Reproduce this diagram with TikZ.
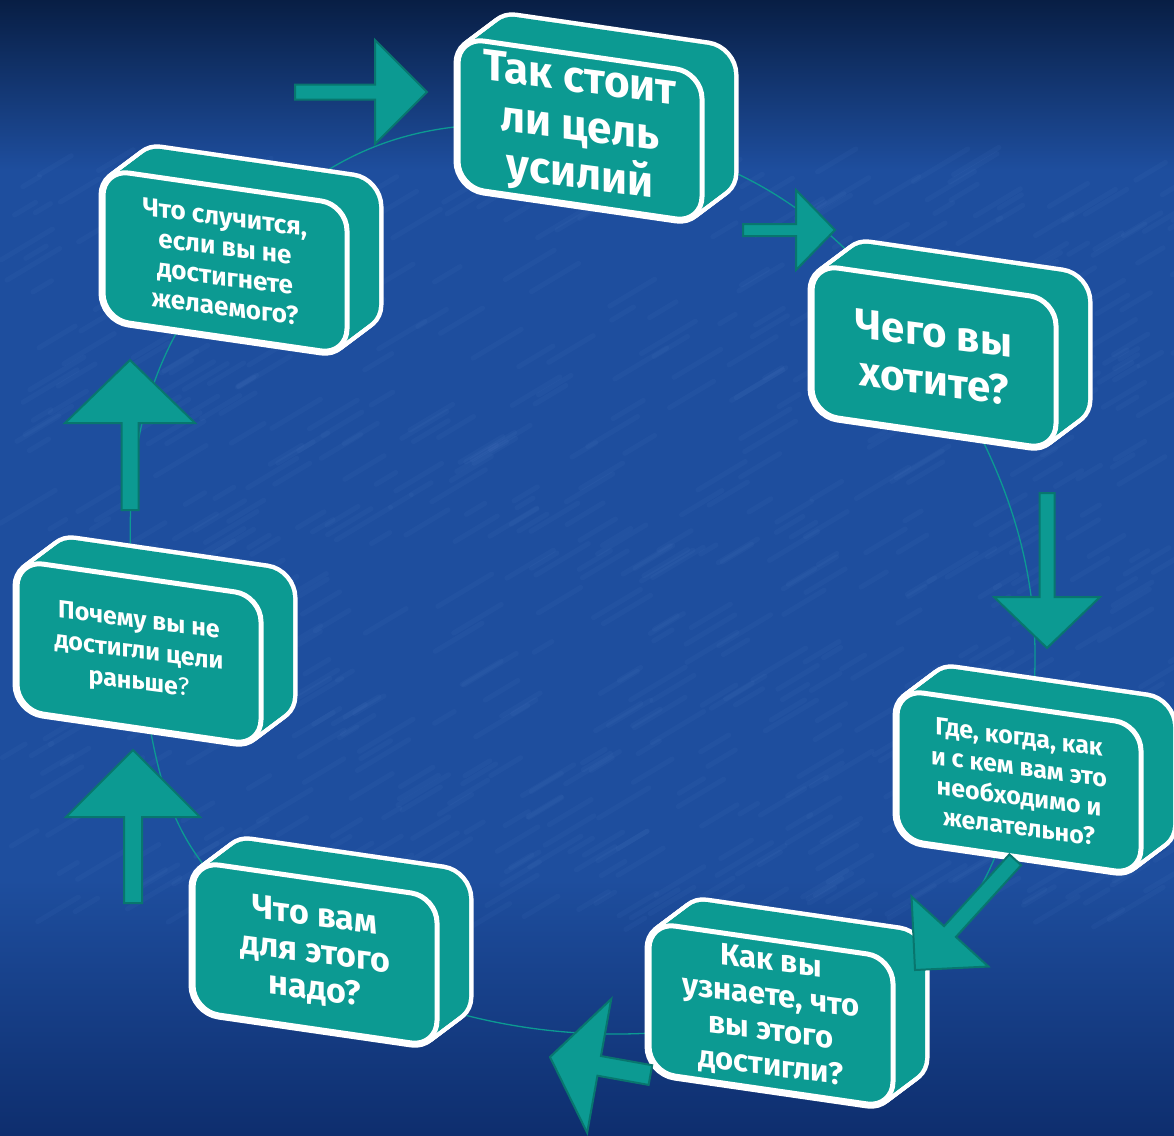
\documentclass[tikz,border=0pt]{standalone}
\usepackage{fontspec}
\setmainfont{Fira Sans}
\usetikzlibrary{calc}

\definecolor{boxteal}{RGB}{12,154,146}
\definecolor{arrowedge}{RGB}{8,118,110}
\definecolor{bgtop}{RGB}{8,30,68}
\definecolor{bgmid}{RGB}{30,78,158}
\definecolor{bgbot}{RGB}{14,46,110}
\definecolor{bglight}{RGB}{110,150,220}

\tikzset{
  ringline/.style={boxteal, line width=1.3pt},
  blockarrow/.style={fill=boxteal, draw=arrowedge, line width=2pt, line join=miter},
  boxface/.style={yslant=-0.145, rounded corners=26pt},
  boxtext/.style={text=white, align=center, inner sep=0pt, yslant=-0.13},
  streak/.style={bglight, opacity=0.06, line width=5pt, line cap=round}
}

% 3D box: name, centre, font size, skip, text
\newcommand{\goalbox}[5]{%
  \begin{scope}[shift={(#2)}]
    \foreach \k in {0,...,16}
      \draw[white, line width=9pt, shift={(2*\k,-1.5*\k)}, boxface]
        (-122,-75) -- (122,-75) -- (122,75) -- (-122,75) -- cycle;
    \foreach \k in {0,...,16}
      \fill[boxteal, shift={(2*\k,-1.5*\k)}, boxface]
        (-122,-75) -- (122,-75) -- (122,75) -- (-122,75) -- cycle;
    \filldraw[fill=boxteal, draw=white, line width=5pt, boxface]
      (-122,-75) -- (122,-75) -- (122,75) -- (-122,75) -- cycle;
    \node[boxtext, font={\fontsize{#3}{#4}\selectfont\bfseries}] (#1) at (0,0) {#5};
  \end{scope}}

% block arrow: tip, angle, length, head length, head half width, shaft half width
\newcommand{\blockarrow}[6]{%
  \draw[blockarrow, shift={(#1)}, rotate=#2]
    (0,0) -- (-#4,#5) -- (-#4,#6) -- (-#3,#6) -- (-#3,-#6) -- (-#4,-#6) -- (-#4,-#5) -- cycle;}

\begin{document}
\begin{tikzpicture}[x=1pt,y=-1pt]
  \useasboundingbox (0,0) rectangle (1174,1135);
  % background
  \fill[bgmid] (0,0) rectangle (1174,1135);
  \shade[top color=bgtop, bottom color=bgmid] (0,0) rectangle (1174,170);
  \shade[top color=bgmid, bottom color=bgbot] (0,880) rectangle (1174,1135);
  \pgfmathsetseed{17}
  \foreach \i in {1,...,700} {
    \pgfmathsetmacro\sx{rnd*1174}
    \pgfmathsetmacro\sy{170+rnd*760}
    \pgfmathsetmacro\sl{15+rnd*40}
    \draw[streak] (\sx,\sy) -- ++(\sl,-0.6*\sl);
  }

  % box centres
  \coordinate (cA) at (580,130);
  \coordinate (cB) at (225,262);
  \coordinate (cC) at (934,357);
  \coordinate (cD) at (1019,782);
  \coordinate (cE) at (771,1015);
  \coordinate (cF) at (139,653);
  \coordinate (cG) at (315,954);

  % ring behind the boxes
  \draw[ringline] plot[smooth cycle, tension=0.8] coordinates {(cA) (cC) (cD) (cE) (cG) (cF) (cB)};

  % boxes
  \goalbox{worth}{cA}{44}{48}{Так стоит\\ли цель\\усилий}
  \goalbox{ifnot}{cB}{26}{30}{Что случится,\\если вы не\\достигнете\\желаемого?}
  \goalbox{want}{cC}{42}{48}{Чего вы\\хотите?}
  \goalbox{where}{cD}{25}{30}{Где, когда, как\\и с кем вам это\\необходимо и\\желательно?}
  \goalbox{know}{cE}{31}{35}{Как вы\\узнаете, что\\вы этого\\достигли?}
  \goalbox{why}{cF}{25}{31}{Почему вы не\\достигли цели\\раньше{\mdseries ?}}
  \goalbox{need}{cG}{34}{37}{Что вам\\для этого\\надо?}

  % arrows
  \blockarrow{427,92}{0}{132}{52}{52}{7.5}
  \blockarrow{835,230}{0}{92}{39}{40}{6}
  \blockarrow{1047,648}{-90}{155}{51}{53}{7.5}
  \blockarrow{915,970}{-132.3}{149}{52}{52}{8}
  \blockarrow{550,1057}{169.8}{102}{50}{68}{10}
  \blockarrow{133,750}{90}{153}{67}{67}{9}
  \blockarrow{130,360}{90}{150}{63}{65}{8.5}
\end{tikzpicture}
\end{document}
